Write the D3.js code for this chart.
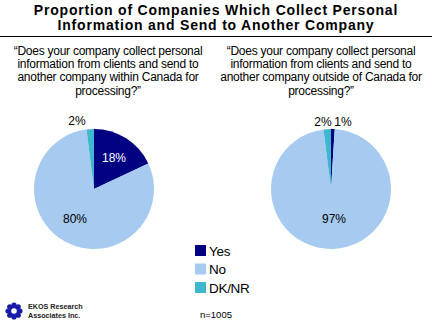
<!DOCTYPE html>
<html>
<head>
<meta charset="utf-8">
<script src="https://cdn.jsdelivr.net/npm/d3@7/dist/d3.min.js"></script>
<style>
  html, body { margin: 0; padding: 0; background: #fff; }
  svg { display: block; font-family: Arial, "Liberation Sans", sans-serif; }
</style>
</head>
<body>
<svg id="chart" width="432" height="324"></svg>
<script>
// Response categories and colours
const categories = ["Yes", "No", "DK/NR"];
const colors = ["#000080", "#A6CAF0", "#3FB8CF"];

// Share of responses (%) for each question
const withinCanada = [18, 80, 2];
const outsideCanada = [1, 97, 2];

const titleLines = [
  "Proportion of Companies Which Collect Personal",
  "Information and Send to Another Company"
];
const questionWithin = [
  "\u201cDoes your company collect personal",
  "information from clients and send to",
  "another company within Canada for",
  "processing?\u201d"
];
const questionOutside = [
  "\u201cDoes your company collect personal",
  "information from clients and send to",
  "another company outside of Canada for",
  "processing?\u201d"
];
const sampleNote = "n=1005";

const svg = d3.select("#chart");
const color = d3.scaleOrdinal().domain(categories).range(colors);

// Title
svg.append("g").selectAll("text")
  .data(titleLines).join("text")
  .attr("x", 216).attr("y", (d, i) => 15 + i * 14.5)
  .attr("text-anchor", "middle")
  .attr("font-size", 14).attr("font-weight", "bold")
  .attr("letter-spacing", 0.8)
  .text(d => d);

svg.append("line")
  .attr("x1", 0).attr("x2", 432).attr("y1", 36.5).attr("y2", 36.5)
  .attr("stroke", "#000").attr("stroke-width", 1);

function question(lines, cx) {
  svg.append("g").selectAll("text")
    .data(lines).join("text")
    .attr("x", cx).attr("y", (d, i) => 55 + i * 13.2)
    .attr("text-anchor", "middle")
    .attr("font-size", 12)
    .attr("letter-spacing", -0.25)
    .text(d => d);
}
question(questionWithin, 108);
question(questionOutside, 321);

const pie = d3.pie().sort(null).value(d => d.v);
const r = 60;
const arc = d3.arc().innerRadius(0).outerRadius(r);

// labels: inside for large slices, above the pie for slivers
function drawPie(values, cx, cy, labelPos) {
  const data = pie(values.map((v, i) => ({ v, cat: categories[i] })));
  const g = svg.append("g").attr("transform", `translate(${cx},${cy})`);
  g.selectAll("path").data(data).join("path")
    .attr("d", arc)
    .attr("fill", d => color(d.data.cat));
  g.selectAll("text").data(data).join("text")
    .attr("x", (d, i) => labelPos[i][0])
    .attr("y", (d, i) => labelPos[i][1])
    .attr("text-anchor", "middle")
    .attr("font-size", 12)
    .attr("fill", d => d.data.cat === "Yes" && d.data.v > 5 ? "#fff" : "#000")
    .text(d => d.data.v + "%");
}

drawPie(withinCanada, 94, 189, [
  [20, -27],
  [-19, 34],
  [-17, -64]
]);
drawPie(outsideCanada, 331, 189, [
  [12, -63],
  [3, 34],
  [-8, -63]
]);

// Legend
const legend = svg.append("g").attr("transform", "translate(195,245)");
const li = legend.selectAll("g").data(categories).join("g")
  .attr("transform", (d, i) => `translate(0,${i * 18.5})`);
li.append("rect").attr("width", 11).attr("height", 11).attr("fill", d => color(d));
li.append("text").attr("x", 14).attr("y", 10.5).attr("font-size", 13.5)
  .attr("letter-spacing", -0.3).text(d => d);

// Sample size
svg.append("text").attr("x", 200).attr("y", 318).attr("font-size", 9.5).text(sampleNote);

// EKOS logo
const logo = svg.append("g").attr("transform", "translate(14,311)");
d3.range(8).forEach(i => {
  const a = i * Math.PI / 4;
  logo.append("circle")
    .attr("cx", 6 * Math.cos(a)).attr("cy", 6 * Math.sin(a))
    .attr("r", 2.6).attr("fill", "#1a1aa8");
});
logo.append("circle").attr("r", 3.6).attr("fill", "none").attr("stroke", "#1a1aa8").attr("stroke-width", 1.6);
svg.append("g").selectAll("text")
  .data(["EKOS Research", "Associates Inc."]).join("text")
  .attr("x", 28).attr("y", (d, i) => 309 + i * 9)
  .attr("font-size", 7.2).attr("font-weight", "bold").attr("fill", "#222")
  .text(d => d);
</script>
</body>
</html>
